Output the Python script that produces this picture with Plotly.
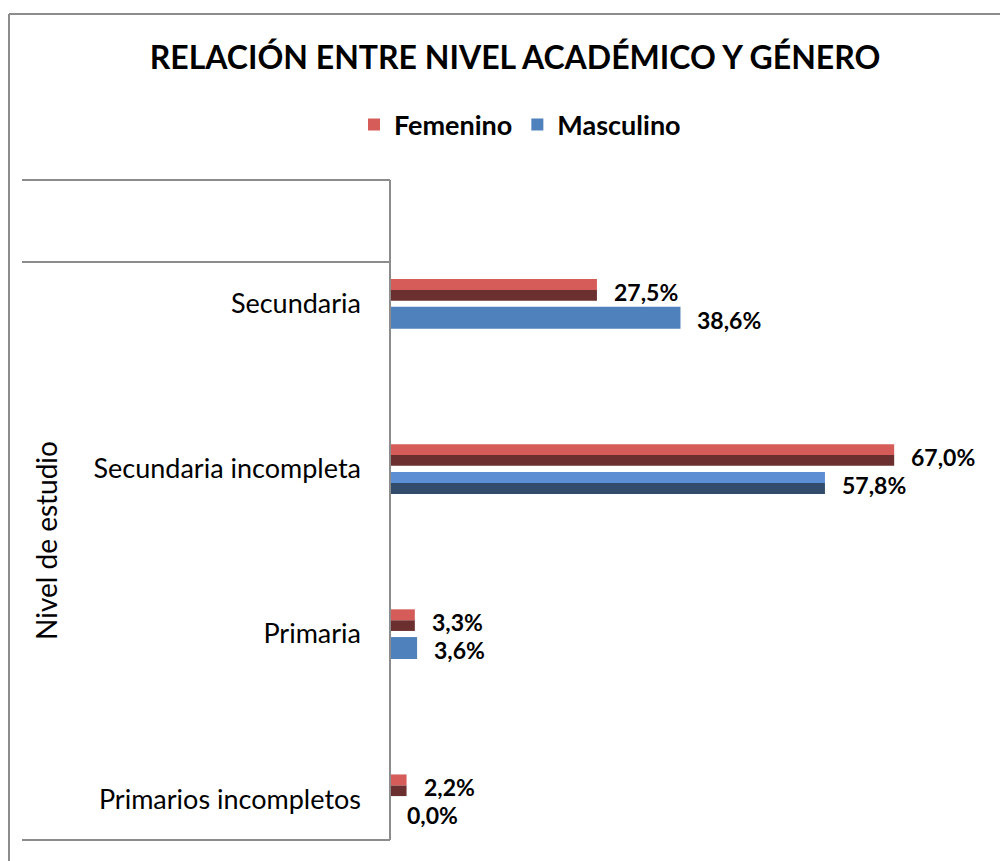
import plotly.graph_objects as go

# categories bottom -> top (as drawn)
categorias = ["Primarios incompletos", "Primaria", "Secundaria incompleta", "Secundaria"]
femenino = [2.2, 3.3, 67.0, 27.5]
masculino = [0.0, 3.6, 57.8, 38.6]
etiquetas_fem = ["2,2%", "3,3%", "67,0%", "27,5%"]
etiquetas_masc = ["0,0%", "3,6%", "57,8%", "38,6%"]

FONT = "Lato, 'Open Sans', sans-serif"
OFF = 8  # default body margin of the page
W, H = 1008 - OFF, 861 - OFF
L, R, T, B = 390 - OFF, 16, 180 - OFF, 21

# bevel-ish look: light upper half + dark lower half
fem_light, fem_dark = "#D55C59", "#6B2F2F"
masc_flat = "#4F81BD"
masc_light = [masc_flat, masc_flat, "#5B8ED3", masc_flat]
masc_dark = [masc_flat, masc_flat, "#344C6C", masc_flat]


def px(x, y):
    """reference pixel position -> paper coords"""
    x, y = x - OFF, y - OFF
    return (x - L) / (W - L - R), (H - B - y) / (H - T - B)


fig = go.Figure()

# Masculino (below the category centre)
fig.add_trace(go.Bar(
    x=masculino, y=categorias, orientation="h", name="Masculino",
    offset=-0.152, width=0.067, marker=dict(color=masc_dark, line=dict(width=0)),
    showlegend=False, hoverinfo="skip"))
fig.add_trace(go.Bar(
    x=masculino, y=categorias, orientation="h", name="Masculino",
    offset=-0.086, width=0.067, marker=dict(color=masc_light, line=dict(width=0)),
    legendrank=2))

# Femenino (above the category centre)
fig.add_trace(go.Bar(
    x=femenino, y=categorias, orientation="h", name="Femenino",
    offset=0.018, width=0.065, marker=dict(color=fem_dark, line=dict(width=0)),
    showlegend=False, hoverinfo="skip"))
fig.add_trace(go.Bar(
    x=femenino, y=categorias, orientation="h", name="Femenino",
    offset=0.083, width=0.066, marker=dict(color=fem_light, line=dict(width=0)),
    legendrank=1))

# data labels
lbl_font = dict(family=FONT, size=23, color="black", weight="bold")
for cat, v, t in zip(categorias, femenino, etiquetas_fem):
    fig.add_annotation(x=v, y=cat, text=t, showarrow=False, xanchor="left",
                       xshift=15, yshift=12, font=lbl_font)
for cat, v, t in zip(categorias, masculino, etiquetas_masc):
    fig.add_annotation(x=v, y=cat, text=t, showarrow=False, xanchor="left",
                       xshift=15, yshift=-16, font=lbl_font)

# axis title
fig.add_annotation(xref="paper", yref="paper", x=px(27, 0)[0], y=px(0, 541)[1],
                   text="Nivel de estudio", textangle=-90, showarrow=False,
                   font=dict(family=FONT, size=28, color="black"))

# category table lines on the left + chart border
line = dict(color="#8C8C8C", width=2)
shapes = []
for yy in (180, 262, 840):
    x0, y0 = px(22, yy)
    x1, _ = px(390, yy)
    shapes.append(dict(type="line", xref="paper", yref="paper", x0=x0, x1=x1, y0=y0, y1=y0, line=line))
x0, y0 = px(390, 180)
_, y1 = px(390, 840)
shapes.append(dict(type="line", xref="paper", yref="paper", x0=x0, x1=x0, y0=y0, y1=y1, line=line))
# outer frame (top and left edges visible)
bx, by = px(9, 14)
shapes.append(dict(type="line", xref="paper", yref="paper", x0=bx, x1=px(1010, 0)[0], y0=by, y1=by, line=line))
shapes.append(dict(type="line", xref="paper", yref="paper", x0=bx, x1=bx, y0=by, y1=px(0, 870)[1], line=line))

fig.update_layout(
    width=W, height=H,
    margin=dict(l=L, r=R, t=T, b=B),
    paper_bgcolor="white", plot_bgcolor="white",
    barmode="overlay",
    title=dict(text="<b>RELACIÓN ENTRE NIVEL ACADÉMICO Y GÉNERO</b>",
               x=(515 - OFF) / W, xanchor="center", y=1 - (58 - OFF) / H, yanchor="middle",
               font=dict(family=FONT, size=32, color="black")),
    legend=dict(orientation="h", xref="container", yref="container",
                x=(520 - OFF) / W, xanchor="center", y=1 - (125 - OFF) / H, yanchor="middle",
                font=dict(family=FONT, size=27, color="black", weight="bold"),
                itemwidth=30, bgcolor="rgba(0,0,0,0)"),
    xaxis=dict(range=[0, 80], visible=False),
    yaxis=dict(type="category", categoryorder="array", categoryarray=categorias,
               range=[-0.248, 3.749], showgrid=False, zeroline=False, showline=False,
               ticks="", ticklabelstandoff=28,
               tickfont=dict(family=FONT, size=27, color="black")),
    shapes=shapes,
    font=dict(family=FONT),
)

fig.write_html("out.html")
